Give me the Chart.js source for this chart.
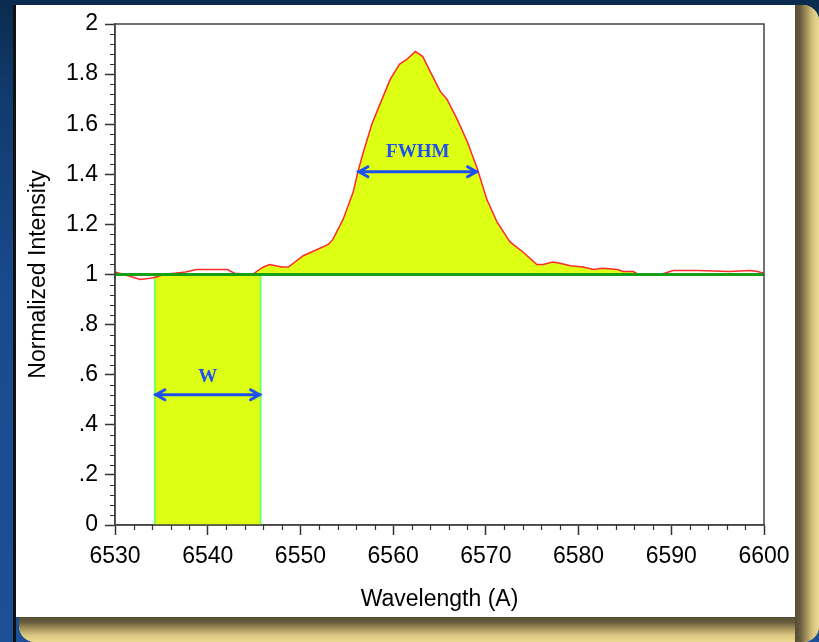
<!DOCTYPE html>
<html>
<head>
<meta charset="utf-8">
<script src="https://cdn.jsdelivr.net/npm/chart.js@4.4.1/dist/chart.umd.min.js"></script>
<style>
html, body { margin: 0; padding: 0; width: 819px; height: 642px; overflow: hidden; }
body { position: relative; background: linear-gradient(180deg, #0a2b4e 0px, #113a6c 90px, #1a4a8f 300px, #1d4f97 642px); }
.frame { position: absolute; left: 19px; top: 5px; width: 800px; height: 637px; border-radius: 16px; background: #ead68e; overflow: hidden; }
.shade-r { position: absolute; left: 776px; top: 0; width: 24px; height: 637px;
  background: linear-gradient(to right, #554d35 0px, #665b3d 5px, #a8965e 12px, #d9c57f 18px, #ecd991 24px); }
.shade-b { position: absolute; left: 0; top: 612px; width: 800px; height: 25px;
  background: linear-gradient(to bottom, #554d35 0px, #665b3d 5px, #a8965e 12px, #d9c57f 18px, #ecd991 25px); }
.edge { position: absolute; left: 13px; top: 5px; width: 3px; height: 637px; background: #111; }
.panel { position: absolute; left: 16px; top: 5px; width: 779px; height: 612px; background: #fff; }
canvas { position: absolute; left: 0; top: 0; }
</style>
</head>
<body>
<div class="frame"><div class="shade-b"></div><div class="shade-r"></div></div>
<div class="edge"></div>
<div class="panel"></div>
<canvas id="chart" width="819" height="642"></canvas>
<script>
// spectrum
const wavelengths = [
  6530.0, 6530.9, 6531.9, 6532.7, 6533.8, 6534.5, 6535.2, 6537.6, 6538.8, 6542.1,
  6542.9, 6544.8, 6546.0, 6546.7, 6548.0, 6548.7, 6550.3, 6551.8, 6553.0, 6553.5,
  6554.6, 6555.7, 6556.2, 6556.8, 6557.7, 6558.8, 6559.7, 6560.7, 6561.5, 6562.4,
  6563.2, 6564.0, 6565.1, 6565.8, 6566.9, 6568.0, 6569.1, 6570.1, 6571.2, 6572.6,
  6574.0, 6575.5, 6576.2, 6577.2, 6578.0, 6579.1, 6580.5, 6581.6, 6582.6, 6584.2,
  6584.8, 6585.9, 6586.3, 6589.1, 6590.2, 6592.8, 6596.3, 6598.5, 6599.3, 6600.0
];
const intensity = [
  1.01, 1.00, 0.99, 0.98, 0.985, 0.99, 1.00, 1.01, 1.02, 1.02,
  1.005, 1.00, 1.03, 1.04, 1.03, 1.03, 1.075, 1.10, 1.12, 1.14,
  1.22, 1.33, 1.41, 1.49, 1.60, 1.70, 1.78, 1.84, 1.86, 1.89,
  1.87, 1.81, 1.73, 1.70, 1.62, 1.53, 1.42, 1.30, 1.21, 1.13,
  1.09, 1.04, 1.04, 1.05, 1.045, 1.035, 1.03, 1.02, 1.025, 1.02,
  1.012, 1.012, 1.003, 1.003, 1.016, 1.016, 1.012, 1.016, 1.012, 1.005
];
const xTickLabels = ['6530', '6540', '6550', '6560', '6570', '6580', '6590', '6600'];
const yTickLabels = ['0', '.2', '.4', '.6', '.8', '1', '1.2', '1.4', '1.6', '1.8', '2'];
const continuum = 1;
const emissionRange = [6544.8, 6586.3];
const widthBand = [6534.3, 6545.7];   // equivalent width box
const fwhmEdges = [6556.2, 6569.1];
const fwhmLevel = 1.41;
const widthArrowLevel = 0.52;

const yellow = '#dcff14';
const blue = '#1e50f0';
const axisFont = { family: '"Liberation Sans", Arial, sans-serif', size: 23 };

const spectrum = wavelengths.map((w, i) => ({ x: w, y: intensity[i] }));
const emission = spectrum.filter(p => p.x >= emissionRange[0] && p.x <= emissionRange[1]);

function drawArrow(ctx, x1, x2, y) {
  ctx.save();
  ctx.strokeStyle = blue;
  ctx.lineWidth = 3;
  ctx.lineCap = 'round';
  ctx.beginPath();
  ctx.moveTo(x1, y);
  ctx.lineTo(x2, y);
  ctx.moveTo(x1 + 10, y - 5);
  ctx.lineTo(x1 + 1, y);
  ctx.lineTo(x1 + 10, y + 5);
  ctx.moveTo(x2 - 10, y - 5);
  ctx.lineTo(x2 - 1, y);
  ctx.lineTo(x2 - 10, y + 5);
  ctx.stroke();
  ctx.restore();
}

const extras = {
  id: 'extras',
  afterDatasetsDraw(chart) {
    const { ctx, chartArea: a, scales: { x, y } } = chart;
    ctx.save();
    // plot frame
    ctx.strokeStyle = '#444';
    ctx.lineWidth = 1.5;
    ctx.strokeRect(a.left, a.top, a.right - a.left, a.bottom - a.top);
    // minor ticks
    ctx.strokeStyle = '#333';
    ctx.lineWidth = 1.2;
    ctx.beginPath();
    for (let i = 0; i <= 50; i++) {
      if (i % 5 === 0) continue;
      const py = Math.round(y.getPixelForValue(i * 0.04)) + 0.5;
      ctx.moveTo(a.left - 5, py);
      ctx.lineTo(a.left, py);
    }
    for (let i = 0; i <= 35; i++) {
      if (i % 5 === 0) continue;
      const px = Math.round(x.getPixelForValue(6530 + i * 2)) + 0.5;
      ctx.moveTo(px, a.bottom);
      ctx.lineTo(px, a.bottom + 5);
    }
    ctx.stroke();
    // annotations
    drawArrow(ctx, x.getPixelForValue(fwhmEdges[0]), x.getPixelForValue(fwhmEdges[1]), y.getPixelForValue(fwhmLevel));
    drawArrow(ctx, x.getPixelForValue(widthBand[0]), x.getPixelForValue(widthBand[1]), y.getPixelForValue(widthArrowLevel));
    ctx.fillStyle = blue;
    ctx.font = 'bold 19px "Liberation Serif", "Times New Roman", serif';
    ctx.textAlign = 'center';
    ctx.textBaseline = 'middle';
    ctx.fillText('FWHM', x.getPixelForValue((fwhmEdges[0] + fwhmEdges[1]) / 2), y.getPixelForValue(fwhmLevel + 0.08));
    ctx.fillText('W', x.getPixelForValue((widthBand[0] + widthBand[1]) / 2), y.getPixelForValue(widthArrowLevel + 0.07));
    ctx.restore();
  }
};

new Chart(document.getElementById('chart'), {
  type: 'line',
  data: {
    datasets: [
      {
        data: [{ x: 6530, y: continuum }, { x: 6600, y: continuum }],
        borderColor: '#16a016',
        borderWidth: 3,
        pointRadius: 0,
        fill: false,
        order: 0
      },
      {
        data: spectrum,
        borderColor: '#ff2b2b',
        borderWidth: 1.5,
        pointRadius: 0,
        fill: false,
        order: 1
      },
      {
        data: emission,
        borderWidth: 0,
        borderColor: 'rgba(0,0,0,0)',
        backgroundColor: yellow,
        pointRadius: 0,
        fill: { value: continuum },
        order: 2
      },
      {
        data: [
          { x: widthBand[0], y: 0 }, { x: widthBand[0], y: continuum },
          { x: widthBand[1], y: continuum }, { x: widthBand[1], y: 0 }
        ],
        borderColor: '#7cff5a',
        borderWidth: 2,
        backgroundColor: yellow,
        pointRadius: 0,
        fill: 'origin',
        order: 3
      }
    ]
  },
  options: {
    responsive: false,
    animation: false,
    layout: { padding: { left: 16, top: 24, right: 55, bottom: 25 } },
    plugins: { legend: { display: false }, tooltip: { enabled: false } },
    scales: {
      x: {
        type: 'linear',
        min: 6530,
        max: 6600,
        afterFit: s => { s.height = 92; },
        ticks: {
          stepSize: 10,
          color: '#000',
          font: axisFont,
          padding: 8,
          maxRotation: 0,
          callback: (v, i) => xTickLabels[i]
        },
        grid: { drawOnChartArea: false, tickLength: 10, tickColor: '#333', tickWidth: 1.5 },
        border: { color: '#444', width: 1.5 },
        title: { display: true, text: 'Wavelength (A)', color: '#000', font: axisFont, padding: { top: 0, bottom: 4 } }
      },
      y: {
        min: 0,
        max: 2,
        afterFit: s => { s.width = 99; },
        ticks: {
          stepSize: 0.2,
          color: '#000',
          font: axisFont,
          padding: 7,
          callback: (v, i) => yTickLabels[i]
        },
        grid: { drawOnChartArea: false, tickLength: 10, tickColor: '#333', tickWidth: 1.5 },
        border: { color: '#444', width: 1.5 },
        title: { display: true, text: 'Normalized Intensity', color: '#000', font: axisFont, padding: { top: 9, bottom: 0 } }
      }
    }
  },
  plugins: [extras]
});
</script>
</body>
</html>
